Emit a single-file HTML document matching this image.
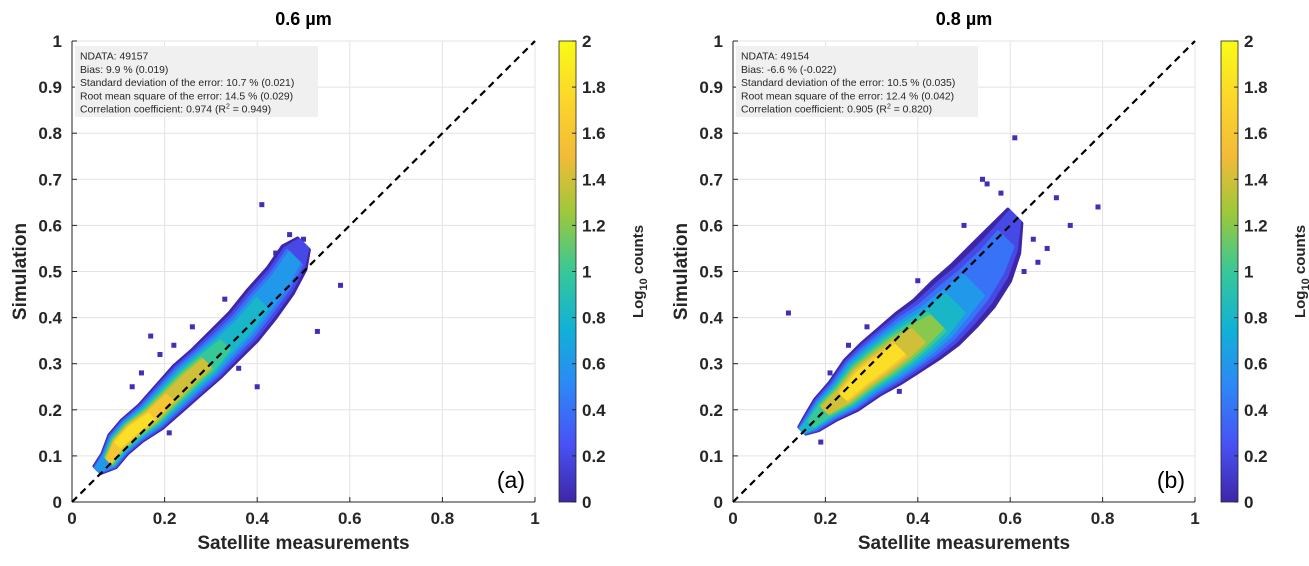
<!DOCTYPE html>
<html><head><meta charset="utf-8"><style>
body{margin:0;background:#fff;}
svg text{font-family:"Liberation Sans","DejaVu Sans",sans-serif;}
</style></head>
<body>
<svg id="chart" width="1309" height="561" viewBox="0 0 1309 561" xmlns="http://www.w3.org/2000/svg">
<defs>
<linearGradient id="parula" x1="0" y1="1" x2="0" y2="0">
<stop offset="0" stop-color="#3e26a8"/><stop offset="0.125" stop-color="#4852f4"/><stop offset="0.25" stop-color="#2d87f7"/>
<stop offset="0.375" stop-color="#11b1d6"/><stop offset="0.5" stop-color="#37c897"/><stop offset="0.625" stop-color="#9cc83b"/>
<stop offset="0.75" stop-color="#f2bb38"/><stop offset="0.875" stop-color="#fbd72a"/><stop offset="1" stop-color="#f9fb14"/>
</linearGradient>
</defs>
</svg>
<script>
// ---- data ----
const tickVals = [0,0.1,0.2,0.3,0.4,0.5,0.6,0.7,0.8,0.9,1];
const xTickVals = [0,0.2,0.4,0.6,0.8,1];
const cbTicks = [0,0.2,0.4,0.6,0.8,1,1.2,1.4,1.6,1.8,2];
// panel a
const aX = [0.055,0.08,0.10,0.13,0.17,0.21,0.25,0.29,0.33,0.37,0.41,0.45,0.48,0.50];
const aY = [0.07,0.09,0.125,0.155,0.185,0.225,0.265,0.30,0.34,0.38,0.43,0.48,0.53,0.56];
const aSpread = [0.015,0.03,0.04,0.045,0.05,0.055,0.06,0.06,0.06,0.06,0.06,0.055,0.05,0.025];
const aPeak = [0.6,1.6,1.9,2.0,1.8,1.6,1.5,1.4,1.0,0.9,0.8,0.7,0.6,0.3];
const aOutX = [0.41,0.58,0.40,0.22,0.17,0.50,0.13,0.53,0.15,0.19,0.26,0.33,0.47,0.44,0.32,0.36,0.21];
const aOutY = [0.645,0.47,0.25,0.34,0.36,0.57,0.25,0.37,0.28,0.32,0.38,0.44,0.58,0.54,0.28,0.29,0.15];
// panel b
const bX = [0.15,0.17,0.20,0.24,0.28,0.32,0.36,0.40,0.44,0.48,0.52,0.56,0.59,0.61];
const bY = [0.155,0.17,0.20,0.23,0.27,0.30,0.33,0.36,0.39,0.43,0.47,0.52,0.57,0.62];
const bSpread = [0.015,0.03,0.045,0.06,0.075,0.085,0.09,0.095,0.095,0.095,0.09,0.08,0.06,0.03];
const bPeak = [0.8,1.1,1.5,1.8,2.0,1.9,1.8,1.5,1.2,0.9,0.7,0.5,0.4,0.2];
const bOutX = [0.61,0.12,0.79,0.70,0.73,0.21,0.54,0.55,0.58,0.68,0.66,0.25,0.29,0.40,0.50,0.63,0.65,0.19,0.36];
const bOutY = [0.79,0.41,0.64,0.66,0.60,0.28,0.70,0.69,0.67,0.55,0.52,0.34,0.38,0.48,0.60,0.50,0.57,0.13,0.24];

const NS='http://www.w3.org/2000/svg';
const svg=document.getElementById('chart');
function mk(tag,attrs,parent){const e=document.createElementNS(NS,tag);for(const k in attrs)e.setAttribute(k,attrs[k]);(parent||svg).appendChild(e);return e;}
const stops=[[0,[62,38,168]],[0.125,[72,82,244]],[0.25,[45,135,247]],[0.375,[17,177,214]],[0.5,[55,200,151]],[0.625,[156,200,59]],[0.75,[242,187,56]],[0.875,[251,215,42]],[1,[249,251,20]]];
function parula(v){const t=Math.max(0,Math.min(1,v/2));for(let i=1;i<stops.length;i++){if(t<=stops[i][0]){const a=stops[i-1],b=stops[i];const f=(t-a[0])/(b[0]-a[0]);const c=a[1].map((x,j)=>Math.round(x+(b[1][j]-x)*f));return `rgb(${c})`;}}return 'rgb(249,251,20)';}

function panel(opt){
  const L=opt.left,R=opt.right,T=41,B=502;
  const sx=v=>L+v*(R-L), sy=v=>B-v*(B-T);
  const g=mk('g',{});
  
  
  tickVals.forEach(v=>{
    const l=mk('line',{x1:L,x2:R,y1:sy(v),y2:sy(v),stroke:'#e3e3e3','stroke-width':1},g);
    
    const t=mk('text',{x:L-10,y:sy(v)+6,'text-anchor':'end','font-size':17,'font-weight':'bold',fill:'#262626'},g);
    t.textContent=String(v);
    
    mk('line',{x1:L,x2:L+5,y1:sy(v),y2:sy(v),stroke:'#262626'},g);
  });
  xTickVals.forEach(v=>{
    const l=mk('line',{x1:sx(v),x2:sx(v),y1:T,y2:B,stroke:'#e3e3e3','stroke-width':1},g);
    
    const t=mk('text',{x:sx(v),y:B+22,'text-anchor':'middle','font-size':17,'font-weight':'bold',fill:'#262626'},g);
    t.textContent=String(v);
    
    mk('line',{x1:sx(v),x2:sx(v),y1:B,y2:B-5,stroke:'#262626'},g);
  });
  const cl=mk('g',{},g);
  
  opt.outX.forEach((x,i)=>{
    const r=mk('rect',{x:sx(x)-2.5,y:sy(opt.outY[i])-2.5,width:5,height:5,fill:parula(0.05)},cl);
    
  });
  const k=0.72/Math.SQRT2;
  for(let lv=0;lv<=2.0001;lv+=0.2){
    let run=[];
    const flush=()=>{
      if(run.length<2){run=[];return;}
      const hw=i=>opt.spread[i]*k*(1-lv/(opt.peak[i]+0.45));
      const up=run.map(i=>{const h=hw(i);return [sx(opt.x[i]-h),sy(opt.y[i]+h)];});
      const dn=run.map(i=>{const h=hw(i);return [sx(opt.x[i]+h),sy(opt.y[i]-h)];}).reverse();
      const pts=up.concat(dn).map(p=>p[0].toFixed(1)+','+p[1].toFixed(1)).join(' ');
      const p=mk('polygon',{points:pts,fill:parula(lv),stroke:parula(lv),'stroke-width':3,'stroke-linejoin':'round'},cl);
      
      run=[];
    };
    opt.x.forEach((x,i)=>{ if(lv<=opt.peak[i]+1e-6) run.push(i); else flush(); });
    flush();
  }
  mk('line',{x1:L,x2:L,y1:T,y2:B,stroke:'#262626','stroke-width':1},g);
  mk('line',{x1:L,x2:R,y1:B,y2:B,stroke:'#262626','stroke-width':1},g);
  const d=mk('line',{x1:sx(0),y1:sy(0),x2:sx(1),y2:sy(1),stroke:'#000','stroke-width':2.2,'stroke-dasharray':'7,5'},g);
  
  const bx=mk('rect',{x:L+3,y:46,width:opt.boxW,height:71,fill:'#f0f0f0'},g);
  
  opt.stats.forEach((s,i)=>{
    const t=mk('text',{x:L+8,y:59.5+i*13.3,'font-size':10.4,fill:'#262626'},g);
    t.innerHTML=s;
    
  });
  const title=mk('text',{x:(L+R)/2,y:25,'text-anchor':'middle','font-size':18,'font-weight':'bold',fill:'#000'},g);
  title.textContent=opt.title;
  const xl=mk('text',{x:(L+R)/2,y:549,'text-anchor':'middle','font-size':19,'font-weight':'bold',fill:'#262626'},g);
  xl.textContent='Satellite measurements';
  const yl=mk('text',{x:0,y:0,'text-anchor':'middle','font-size':19,'font-weight':'bold',fill:'#262626',transform:`translate(${L-46},${(T+B)/2}) rotate(-90)`},g);
  yl.textContent='Simulation';
  const lab=mk('text',{x:R-10,y:488,'text-anchor':'end','font-size':23,fill:'#000'},g);
  lab.textContent=opt.label;
  const cb=mk('g',{},g);
  const CL=opt.cb;
  mk('rect',{x:CL,y:T,width:17,height:B-T,fill:'url(#parula)',stroke:'#262626','stroke-width':0.8},cb);
  cbTicks.forEach(v=>{
    const y=B-v/2*(B-T);
    mk('line',{x1:CL+13,x2:CL+17,y1:y,y2:y,stroke:'#262626'},cb);
    const t=mk('text',{x:CL+23,y:y+6,'font-size':17,'font-weight':'bold',fill:'#262626'},cb);
    t.textContent=String(v);
    
  });
  const ct=mk('text',{x:0,y:0,'text-anchor':'middle','font-size':15,'font-weight':'bold',fill:'#262626',transform:`translate(${CL+84},${(T+B)/2}) rotate(-90)`},cb);
  ct.innerHTML='Log<tspan font-size="11" dy="4">10</tspan><tspan dy="-4"> counts</tspan>';
  
}
panel({name:'panel-a',left:72,right:535,cb:559,boxW:243,title:'0.6 µm',label:'(a)',x:aX,y:aY,spread:aSpread,peak:aPeak,outX:aOutX,outY:aOutY,
 stats:['NDATA: 49157','Bias: 9.9 % (0.019)','Standard deviation of the error: 10.7 % (0.021)','Root mean square of the error: 14.5 % (0.029)','Correlation coefficient:  0.974 (R<tspan font-size="7" dy="-4">2</tspan><tspan dy="4"> = 0.949)</tspan>']});
panel({name:'panel-b',left:733,right:1195,cb:1221,boxW:242,title:'0.8 µm',label:'(b)',x:bX,y:bY,spread:bSpread,peak:bPeak,outX:bOutX,outY:bOutY,
 stats:['NDATA: 49154','Bias: -6.6 % (-0.022)','Standard deviation of the error: 10.5 % (0.035)','Root mean square of the error: 12.4 % (0.042)','Correlation coefficient:  0.905 (R<tspan font-size="7" dy="-4">2</tspan><tspan dy="4"> = 0.820)</tspan>']});
</script>
</body></html>
